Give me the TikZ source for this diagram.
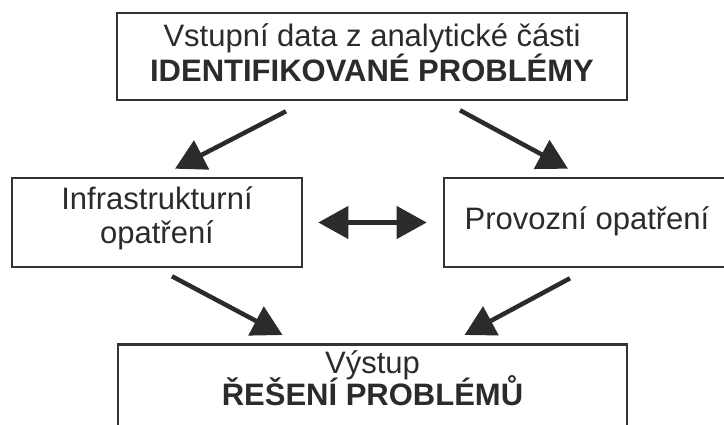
\documentclass[tikz,border=0pt]{standalone}
\usepackage{fontspec}
\setmainfont{Liberation Sans}
\usetikzlibrary{arrows.meta,calc}
\definecolor{ink}{HTML}{2B2B2B}
\definecolor{frame}{HTML}{333333}
\begin{document}
\begin{tikzpicture}[x=1pt,y=-1pt,
  boxstyle/.style={draw=frame,line width=2.6pt,rectangle,inner sep=0pt},
  arr/.style={draw=ink,line width=4.5pt,-{Triangle[length=30pt,width=32pt]}},
  darr/.style={draw=ink,line width=4.5pt,{Triangle[length=30pt,width=32pt]}-{Triangle[length=30pt,width=32pt]}},
  txt/.style={font=\fontsize{31}{35}\selectfont,text=ink,inner sep=0pt,anchor=base}]
\useasboundingbox (0,0) rectangle (724,425);
\node[boxstyle,minimum width=510pt,minimum height=87pt] (top) at (372,56.5) {};
\node[boxstyle,minimum width=290pt,minimum height=89pt] (left) at (157,222.5) {};
\node[boxstyle,minimum width=286pt,minimum height=89pt] (right) at (587,222.5) {};
\node[boxstyle,minimum width=509pt,minimum height=120pt,anchor=north] (bot) at (372.5,343) {};
\node[txt] (t1) at (372,47) {Vstupní data z analytické části};
\node[txt] (t2) at (372,82) {\textbf{IDENTIFIKOVANÉ PROBLÉMY}};
\node[txt] (l1) at (157,210) {Infrastrukturní};
\node[txt] (l2) at (157,244) {opatření};
\node[txt] (r1) at (587,230) {Provozní opatření};
\node[txt] (b1) at (372.5,373) {Výstup};
\node[txt] (b2) at (372.5,405) {\textbf{ŘEŠENÍ PROBLÉMŮ}};
\draw[arr] ([shift={(-86,10)}]top.south) -- ([shift={(18,-8)}]left.north);
\draw[arr] ([shift={(88,9)}]top.south) -- ([shift={(-19,-8)}]right.north);
\draw[darr] ([xshift=15pt]left.east) -- ([xshift=-16pt]right.west);
\draw[arr] ([shift={(15,8)}]left.south) -- ([shift={(-90,-8)}]bot.north);
\draw[arr] ([shift={(-17,10)}]right.south) -- ([shift={(92,-8)}]bot.north);
\end{tikzpicture}
\end{document}
